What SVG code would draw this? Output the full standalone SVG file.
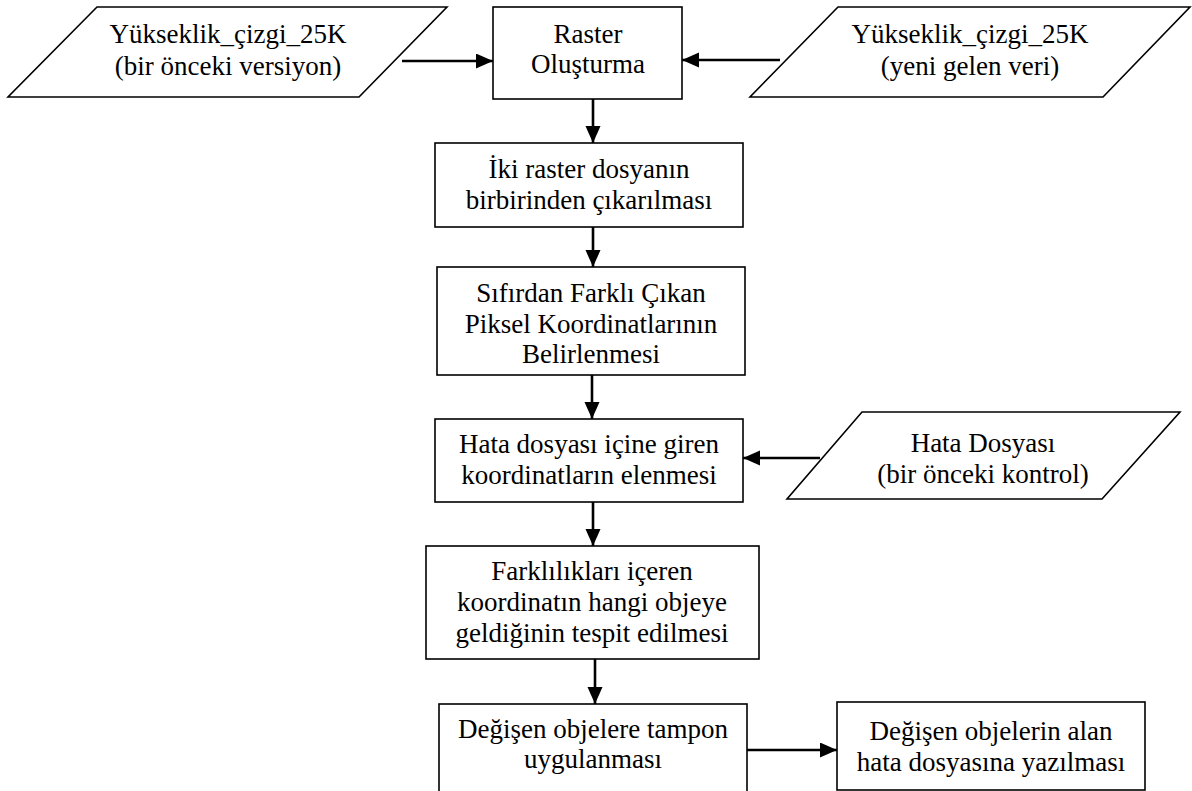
<svg xmlns="http://www.w3.org/2000/svg" width="1192" height="791" viewBox="0 0 1192 791">
<style>
.shape{fill:#fff;stroke:#000;stroke-width:1.6}
.t{font-family:"Liberation Serif","Times New Roman",serif;font-size:27px;fill:#000;text-anchor:middle}
.c{stroke:#000;stroke-width:2.6;fill:none;marker-end:url(#ah)}
</style>
<defs>
<marker id="ah" markerUnits="userSpaceOnUse" markerWidth="18" markerHeight="16" refX="17" refY="7.5" orient="auto">
<path d="M0,0 L17,7.5 L0,15 z" fill="#000"/>
</marker>
</defs>
<rect width="1192" height="791" fill="#fff"/>
<g id="n_old">
<polygon class="shape" points="97,7 447,7 359,97 8,97"/>
<text class="t" x="228" y="43">Yükseklik_çizgi_25K</text>
<text class="t" x="228" y="75">(bir önceki versiyon)</text>
</g>
<g id="n_raster">
<rect class="shape" x="493" y="7" width="189" height="92"/>
<text class="t" x="588" y="43">Raster</text>
<text class="t" x="588" y="73">Oluşturma</text>
</g>
<g id="n_new">
<polygon class="shape" points="838,7 1190,7 1103,97 750,97"/>
<text class="t" x="970" y="43">Yükseklik_çizgi_25K</text>
<text class="t" x="970" y="75">(yeni gelen veri)</text>
</g>
<g id="n_subtract">
<rect class="shape" x="435" y="143" width="308" height="84"/>
<text class="t" x="589" y="178">İki raster dosyanın</text>
<text class="t" x="589" y="209">birbirinden çıkarılması</text>
</g>
<g id="n_nonzero">
<rect class="shape" x="437" y="267" width="308" height="108"/>
<text class="t" x="591" y="302">Sıfırdan Farklı Çıkan</text>
<text class="t" x="591" y="333">Piksel Koordinatlarının</text>
<text class="t" x="591" y="363">Belirlenmesi</text>
</g>
<g id="n_eliminate">
<rect class="shape" x="435" y="419" width="308" height="83"/>
<text class="t" x="589" y="453">Hata dosyası içine giren</text>
<text class="t" x="589" y="484">koordinatların elenmesi</text>
</g>
<g id="n_errfile">
<polygon class="shape" points="862,412 1180,412 1102,499 787,499"/>
<text class="t" x="983" y="452">Hata Dosyası</text>
<text class="t" x="983" y="483">(bir önceki kontrol)</text>
</g>
<g id="n_detect">
<rect class="shape" x="426" y="546" width="333" height="113"/>
<text class="t" x="592" y="580">Farklılıkları içeren</text>
<text class="t" x="592" y="611">koordinatın hangi objeye</text>
<text class="t" x="592" y="642">geldiğinin tespit edilmesi</text>
</g>
<g id="n_buffer">
<rect class="shape" x="439" y="704" width="308" height="95"/>
<text class="t" x="593" y="738">Değişen objelere tampon</text>
<text class="t" x="593" y="768">uygulanması</text>
</g>
<g id="n_write">
<rect class="shape" x="837" y="702" width="308" height="88"/>
<text class="t" x="991" y="740">Değişen objelerin alan</text>
<text class="t" x="991" y="771">hata dosyasına yazılması</text>
</g>
<g id="connectors">
<line class="c" x1="402" y1="61" x2="493" y2="61"/>
<line class="c" x1="780" y1="60" x2="682" y2="60"/>
<line class="c" x1="593" y1="99" x2="593" y2="143"/>
<line class="c" x1="593" y1="227" x2="593" y2="267"/>
<line class="c" x1="592" y1="375" x2="592" y2="419"/>
<line class="c" x1="820" y1="458" x2="743" y2="458"/>
<line class="c" x1="593" y1="502" x2="593" y2="546"/>
<line class="c" x1="595" y1="659" x2="595" y2="704"/>
<line class="c" x1="747" y1="750" x2="837" y2="750"/>
</g>
</svg>
